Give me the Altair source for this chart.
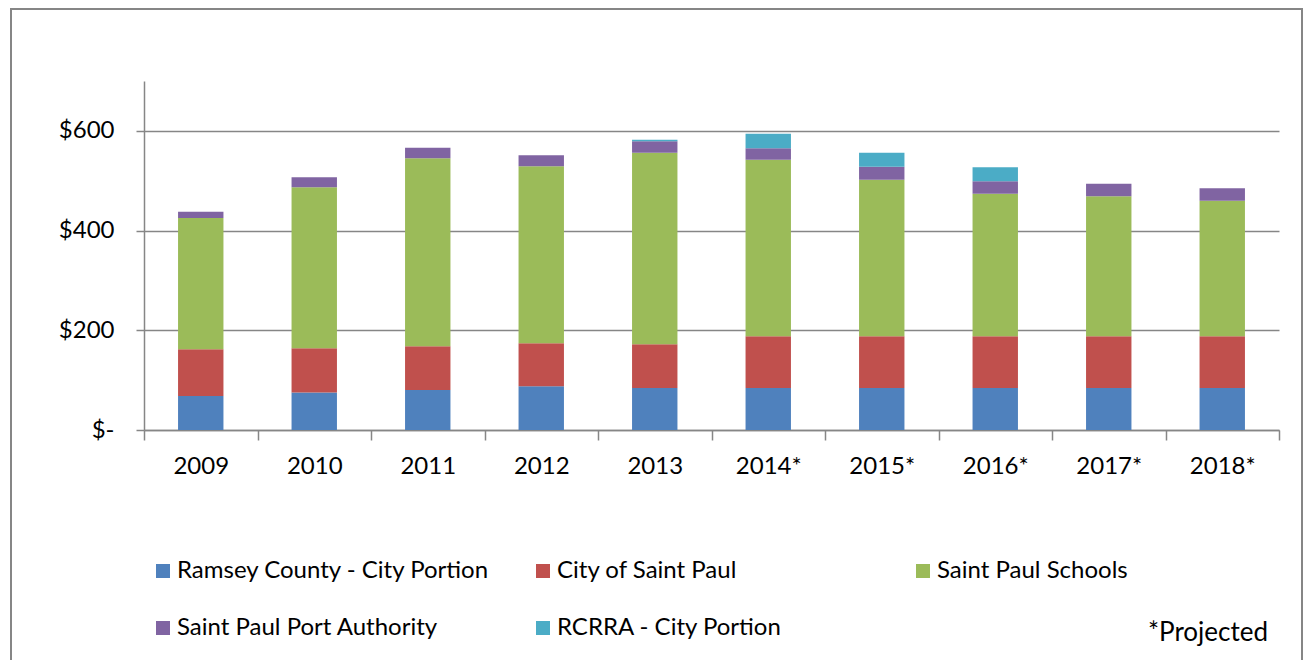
import altair as alt
import pandas as pd

years = ["2009", "2010", "2011", "2012", "2013", "2014*", "2015*", "2016*", "2017*", "2018*"]
series = ["Ramsey County - City Portion", "City of Saint Paul", "Saint Paul Schools",
          "Saint Paul Port Authority", "RCRRA - City Portion"]
colors = ["#4F81BD", "#C0504D", "#9BBB59", "#8064A2", "#4BACC6"]

ramsey = [68, 75, 80, 88, 84, 84, 84, 84, 84, 84]
city = [94, 89, 88, 86, 88, 104, 104, 104, 104, 104]
schools = [263, 323, 377, 355, 384, 354, 314, 286, 281, 272]
port = [13, 20, 21, 22, 23, 23, 26, 25, 25, 25]
rcrra = [0, 0, 0, 0, 3, 29, 28, 28, 0, 0]

y_ticks = [0, 200, 400, 600]

rows = []
for si, (name, vals) in enumerate(zip(series, [ramsey, city, schools, port, rcrra])):
    for y, v in zip(years, vals):
        rows.append({"year": y, "series": name, "value": v, "order": si})
df = pd.DataFrame(rows)

FONT = "Lato"
GRAY = "#868686"
FS = 24

bars = alt.Chart(df).mark_bar(width=alt.RelativeBandSize(0.4)).encode(
    x=alt.X("year:N", sort=years, title=None,
            scale=alt.Scale(paddingInner=0, paddingOuter=0),
            axis=alt.Axis(labelAngle=0, tickBand="extent", tickSize=10, labelPadding=14,
                          domainColor=GRAY, tickColor=GRAY, domainWidth=1.5, tickWidth=1.5,
                          labelFont=FONT, labelFontSize=FS, labelColor="black", grid=False)),
    y=alt.Y("value:Q", stack="zero", title=None,
            scale=alt.Scale(domain=[0, 700], nice=False),
            axis=alt.Axis(values=y_ticks, tickSize=8, labelPadding=22,
                          labelExpr="datum.value == 0 ? '$-' : '$' + datum.value",
                          grid=True, gridColor=GRAY, gridWidth=1.5,
                          domainColor=GRAY, tickColor=GRAY, domainWidth=1.5, tickWidth=1.5,
                          labelFont=FONT, labelFontSize=FS, labelColor="black")),
    color=alt.Color("series:N", sort=series, title=None,
                    scale=alt.Scale(domain=series, range=colors),
                    legend=alt.Legend(orient="none", legendX=7, legendY=478,
                                      direction="horizontal", columns=3, gridAlign="all",
                                      symbolType="square", symbolSize=196, symbolStrokeWidth=0,
                                      labelFont=FONT, labelFontSize=FS, labelColor="black",
                                      labelOffset=2, columnPadding=41, rowPadding=33,
                                      labelLimit=400, padding=0)),
    order=alt.Order("order:Q"),
)

note = alt.Chart(alt.Data(values=[{"t": "*Projected"}])).mark_text(
    align="right", baseline="alphabetic", font=FONT, fontSize=26, color="black"
).encode(x=alt.value(1124), y=alt.value(560), text="t:N")

frame = alt.Chart(alt.Data(values=[{}])).mark_rect(
    fill=None, stroke=GRAY, strokeWidth=2
).encode(x=alt.value(-133), x2=alt.value(1158), y=alt.value(-72), y2=alt.value(700))

chart = alt.layer(frame, bars, note).properties(
    width=1135, height=349,
    background="white",
    autosize=alt.AutoSizeParams(type="none"),
    padding={"left": 136, "top": 73, "right": 24, "bottom": 230},
).configure_view(strokeWidth=0, stroke="transparent")

chart.save("out.html", embed_options={"renderer": "svg", "actions": False})
